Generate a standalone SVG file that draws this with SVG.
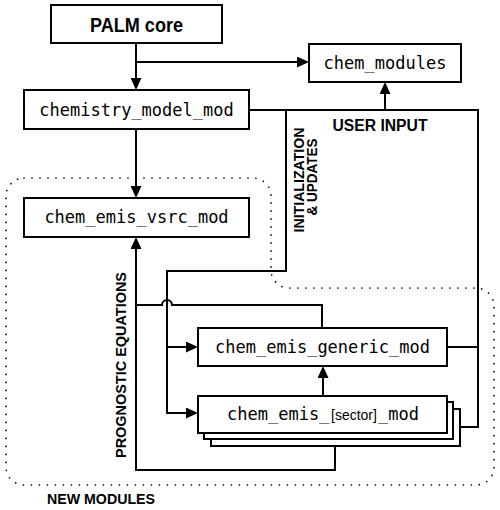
<svg xmlns="http://www.w3.org/2000/svg" width="500" height="510" viewBox="0 0 500 510">
<style>
.box{fill:#fff;stroke:#000;stroke-width:2}
.mono{font-family:"DejaVu Sans Mono",monospace;font-size:17px;fill:#000;text-anchor:middle}
.lbl{font-family:"Liberation Sans",Arial,sans-serif;font-weight:bold;fill:#000}
.ln{fill:none;stroke:#000;stroke-width:2}
.arr{marker-end:url(#ah)}
.dot{fill:none;stroke:#000;stroke-width:1.7;stroke-linecap:round;stroke-dasharray:0 8}
</style>
<defs>
<marker id="ah" viewBox="0 0 12 11" refX="10" refY="5.5" markerWidth="12" markerHeight="11" markerUnits="userSpaceOnUse" orient="auto">
<path d="M0,0 L12,5.5 L0,11 z" fill="#000"/>
</marker>
</defs>
<rect width="500" height="510" fill="#fff"/>
<g id="new-modules-region">
<path class="dot" d="M24,178 H253 A18 18 0 0 1 271,196 V270 A18 18 0 0 0 289,288 H476 A18 18 0 0 1 494,306 V467 A18 18 0 0 1 476,485 H24 A18 18 0 0 1 6,467 V196 A18 18 0 0 1 24,178 Z"/>
<text class="lbl" x="47" y="504" font-size="15" textLength="108" lengthAdjust="spacingAndGlyphs">NEW MODULES</text>
</g>
<g id="connectors">
<path class="ln arr" d="M136,43 V88"/>
<path class="ln arr" d="M136,62 H307"/>
<path class="ln arr" d="M136,129 V196"/>
<path class="ln" d="M249,110 H478 V427 H460"/>
<path class="ln arr" d="M385,110 V84"/>
<path class="ln" d="M447,347 H478"/>
<path class="ln" d="M286,110 V271 H167 V413 H196"/>
<path class="ln arr" d="M167,413 H196"/>
<path class="ln arr" d="M167,347 H196"/>
<path class="ln arr" d="M335,446 V470 H136 V239"/>
<path class="ln" d="M136,305 H162 A5 5 0 0 1 172,305 H322 V328"/>
<path class="ln arr" d="M323,396 V368"/>
<text class="lbl" font-size="16" x="380" y="131" text-anchor="middle" textLength="95" lengthAdjust="spacingAndGlyphs">USER INPUT</text>
<text class="lbl" font-size="14" transform="translate(303.5,180) rotate(-90)" text-anchor="middle" textLength="105" lengthAdjust="spacingAndGlyphs">INITIALIZATION</text>
<text class="lbl" font-size="14" transform="translate(316.5,177) rotate(-90)" text-anchor="middle" textLength="77" lengthAdjust="spacingAndGlyphs">&amp; UPDATES</text>
<text class="lbl" font-size="15.5" transform="translate(125.5,365) rotate(-90)" text-anchor="middle" textLength="186" lengthAdjust="spacingAndGlyphs">PROGNOSTIC EQUATIONS</text>
</g>
<g id="palm-core">
<rect class="box" x="51" y="5" width="171" height="38"/>
<text class="lbl" x="136.5" y="32" font-size="20" text-anchor="middle" textLength="93" lengthAdjust="spacingAndGlyphs">PALM core</text>
</g>
<g id="chemistry-model-mod">
<rect class="box" x="24" y="90" width="225" height="39"/>
<text class="mono" x="136.5" y="115.5">chemistry_model_mod</text>
</g>
<g id="chem-modules">
<rect class="box" x="309" y="44" width="152" height="38"/>
<text class="mono" x="385" y="69">chem_modules</text>
</g>
<g id="chem-emis-vsrc-mod">
<rect class="box" x="24" y="198" width="225" height="39"/>
<text class="mono" x="136.5" y="223">chem_emis_vsrc_mod</text>
</g>
<g id="chem-emis-generic-mod">
<rect class="box" x="198" y="328" width="249" height="38"/>
<text class="mono" x="322.5" y="353">chem_emis_generic_mod</text>
</g>
<g id="chem-emis-sector-mod">
<rect class="box" x="211" y="409" width="249" height="37"/>
<rect class="box" x="204" y="402" width="249" height="37"/>
<rect class="box" x="198" y="396" width="249" height="37"/>
<text x="227" y="419.5" font-family="DejaVu Sans Mono, monospace" font-size="17" fill="#000">chem_emis_<tspan font-family="Liberation Sans, Arial, sans-serif" font-size="14" x="331">[sector]</tspan><tspan x="378">_mod</tspan></text>
</g>
</svg>
